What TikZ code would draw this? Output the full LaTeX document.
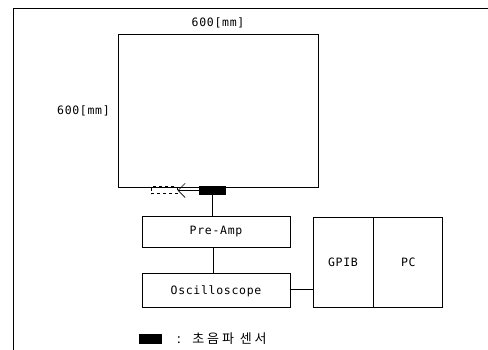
\documentclass[tikz,border=0pt]{standalone}
\usepackage{fontspec}
\setmonofont[LetterSpace=6]{DejaVu Sans Mono}
\newfontfamily\korean[LetterSpace=22]{Noto Sans CJK KR}
\usetikzlibrary{arrows.meta,positioning}

\begin{document}
\begin{tikzpicture}[x=1pt, y=-1pt, line width=0.9pt, every node/.style={font=\ttfamily\fontsize{11.5}{13}\selectfont},
  box/.style={draw, inner sep=0pt, align=center},
  sensor/.style={draw, fill=black, inner sep=0pt, minimum width=26pt, minimum height=8pt},
  ghost/.style={draw, dashed, inner sep=0pt, minimum width=26pt, minimum height=7pt},
  arrow/.style={-{Straight Barb[length=2.5mm]}, line width=0.7pt}]
\useasboundingbox (0,0) rectangle (488,350);
% frame of the page
\draw (13,350) -- (13,8) -- (488,8);
% test plate
\node[box, minimum width=200pt, minimum height=153pt] (plate) at (218,110.5) {};
\node[above=2pt of plate] (topdim) {600[mm]};
\node[left=4pt of plate] (leftdim) {600[mm]};
% sensor and its moved position
\node[sensor, anchor=north] (sensor) at (212,186) {};
\node[ghost, left=21pt of sensor] (ghost) {};
\draw[arrow] (sensor) -- (ghost);
% measuring chain
\node[box, minimum width=148pt, minimum height=31pt] (preamp) at (216,231.5) {Pre-Amp};
\node[box, below=26pt of preamp, minimum width=148pt, minimum height=34pt] (scope) {Oscilloscope};
\node[box, minimum width=60pt, minimum height=90pt] (gpib) at (343,262) {GPIB};
\node[box, right=0pt of gpib, minimum width=69pt, minimum height=90pt] (pc) {PC};
\draw (sensor.south) -- (sensor.south |- preamp.north);
\draw (preamp.south -| 213,0) -- (scope.north -| 213,0);
\draw (scope.east |- 0,289) -- (gpib.west |- 0,289);
% legend
\node[sensor, minimum width=22pt, minimum height=9pt] (key) at (150,339) {};
\node[right=12pt of key, font=\korean\fontsize{13}{15}\selectfont] (keytext) {:\ \ 초음파\ 센서};
\end{tikzpicture}
\end{document}
